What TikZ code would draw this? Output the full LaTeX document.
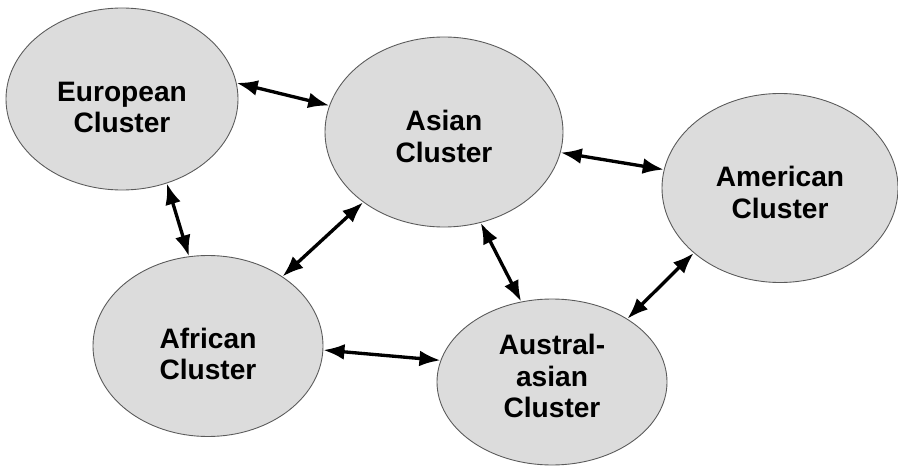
\documentclass[tikz,border=0pt]{standalone}
\usepackage{fontspec}
\setmainfont{Liberation Sans}
\usetikzlibrary{shapes.geometric,arrows.meta}
\definecolor{clfill}{RGB}{220,220,220}
\definecolor{cledge}{RGB}{90,90,90}
\newcommand{\clname}[2][-11pt]{\raisebox{#1}[0pt][0pt]{\begin{tabular}{@{}c@{}}#2\end{tabular}}}
\begin{document}
\begin{tikzpicture}
        [every node/.style={ellipse,draw=cledge,line width=0.5pt,fill=clfill,inner sep=0pt,
           font=\fontsize{16}{18}\selectfont\bfseries},
         link/.style={line width=1.9pt,{Latex[length=12pt,width=9pt]}-{Latex[length=12pt,width=9pt]}}]
        \useasboundingbox (0,0) rectangle (17.96,9.32);
        \node[minimum width=4.64cm,minimum height=3.64cm] (eu) at (2.44,7.34) {\clname{European\\Cluster}};
        \node[minimum width=4.76cm,minimum height=3.80cm] (as) at (8.88,6.68) {\clname[-9pt]{Asian\\Cluster}};
        \node[minimum width=4.72cm,minimum height=3.78cm] (am) at (15.60,5.56) {\clname[-9pt]{American\\Cluster}};
        \node[minimum width=4.60cm,minimum height=3.62cm] (af) at (4.16,2.40) {\clname{African\\Cluster}};
        \node[minimum width=4.60cm,minimum height=3.32cm] (au) at (11.04,1.68) {\clname[-3pt]{Austral-\\asian\\Cluster}};
        \foreach \from/\to in {eu.8/as.167,eu.-62/af.102,as.221/af.43,as.-10/am.171,
                               as.-68/au.111,af.-2/au.169,au.40/am.217}
          \draw[link] (\from) -- (\to);
      \end{tikzpicture}
\end{document}
